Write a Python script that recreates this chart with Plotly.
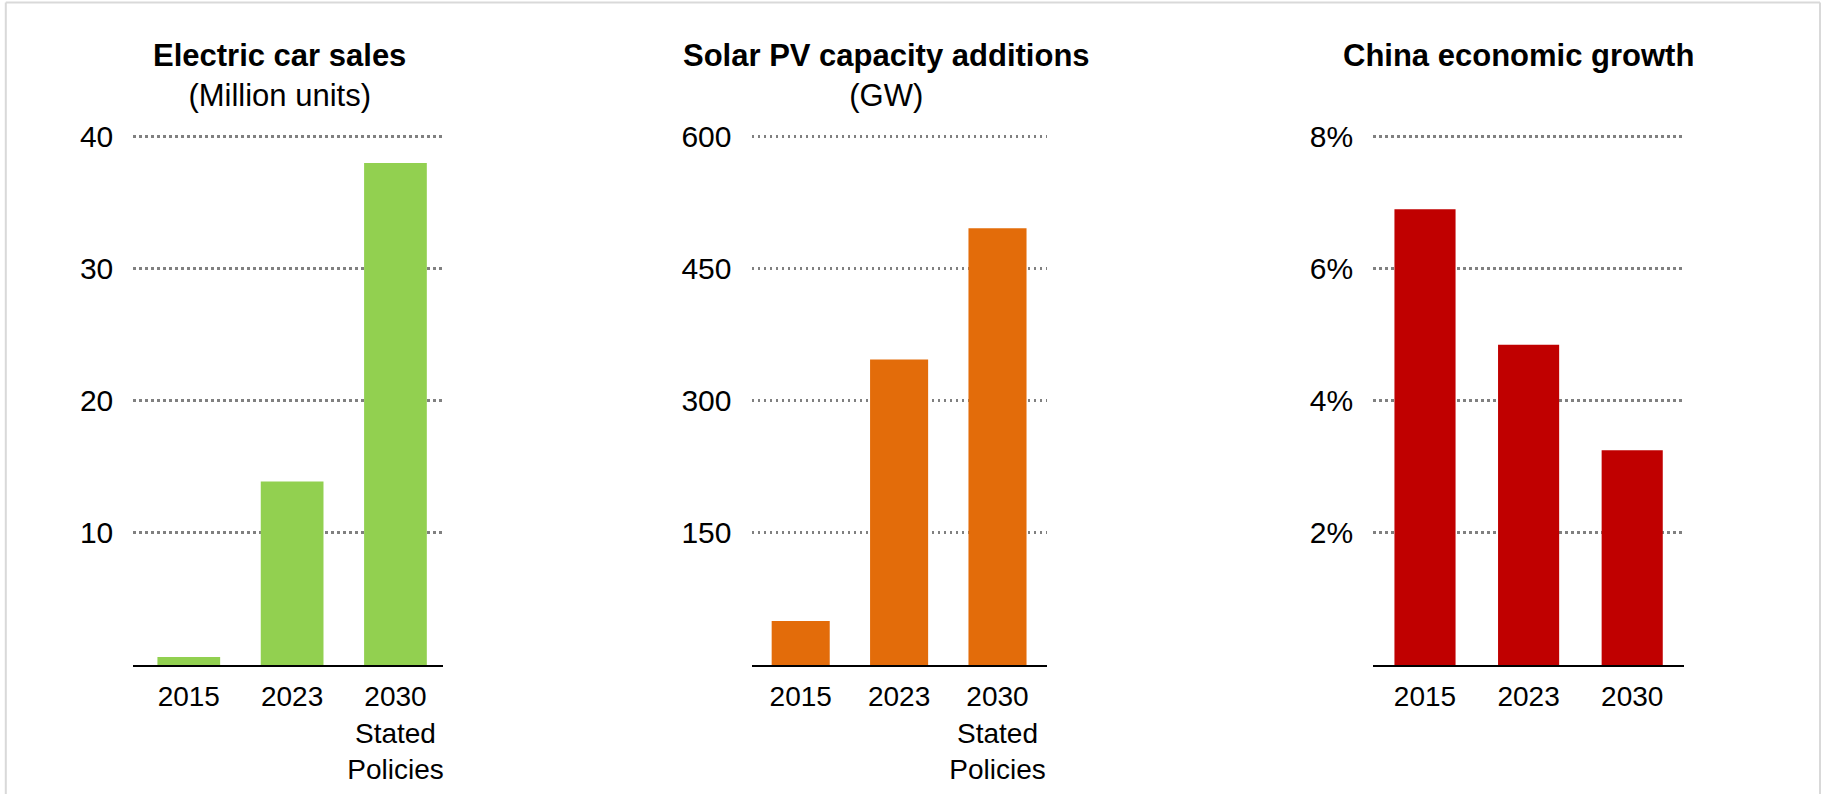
import plotly.graph_objects as go

# ---- data ----
years = ["2015", "2023", "2030"]
ev_tick_text = ["2015", "2023", "2030<br>Stated<br>Policies"]
gdp_tick_text = ["2015", "2023", "2030"]

ev_sales_mn = [0.6, 13.9, 38.0]          # million units
solar_pv_gw = [50, 347, 496]             # GW
china_gdp_pct = [6.9, 4.85, 3.25]        # % growth

ev_ticks = [10, 20, 30, 40]
pv_ticks = [150, 300, 450, 600]
gdp_ticks = [2, 4, 6, 8]
gdp_tick_labels = ["2%", "4%", "6%", "8%"]

# ---- canvas ----
W, H = 1825, 794
FONT = "Liberation Sans, Arial, Helvetica, sans-serif"

BASE_PX = 665.0     # pixel row of the value axis zero
TOP_PX = 136.7      # pixel row of the top tick value
HEADROOM = 1.02     # range extends a little past the top tick so its gridline shows


def px_x(v):
    return v / W


def px_y(v):
    return 1 - v / H


top_dom_px = BASE_PX - (BASE_PX - TOP_PX) * HEADROOM
y_dom = [px_y(BASE_PX), px_y(top_dom_px)]

panels = [
    dict(dom=(133.3, 443.3), rng=(-0.537, 2.463), color="#92D050", vals=ev_sales_mn,
         ticks=ev_ticks, tlabels=[str(t) for t in ev_ticks], rmax=40,
         ttext=ev_tick_text, width=0.607),
    dict(dom=(751.5, 1046.7), rng=(-0.5, 2.5), color="#E36C0A", vals=solar_pv_gw,
         ticks=pv_ticks, tlabels=[str(t) for t in pv_ticks], rmax=600,
         ttext=ev_tick_text, width=0.59),
    dict(dom=(1373.2, 1684.0), rng=(-0.5, 2.5), color="#C00000", vals=china_gdp_pct,
         ticks=gdp_ticks, tlabels=gdp_tick_labels, rmax=8,
         ttext=gdp_tick_text, width=0.59),
]

fig = go.Figure()
layout = dict(
    width=W, height=H,
    margin=dict(l=0, r=0, t=0, b=0),
    paper_bgcolor="white", plot_bgcolor="white",
    showlegend=False,
    font=dict(family=FONT, color="black", size=28),
)

for i, p in enumerate(panels, start=1):
    sx = "" if i == 1 else str(i)
    fig.add_trace(go.Bar(
        x=years, y=p["vals"], xaxis="x" + sx, yaxis="y" + sx,
        marker=dict(color=p["color"], line=dict(width=0)),
        width=p["width"], hoverinfo="skip",
    ))
    layout["xaxis" + sx] = dict(
        domain=[px_x(p["dom"][0]), px_x(p["dom"][1])],
        anchor="y" + sx, type="category", range=list(p["rng"]),
        tickmode="array", tickvals=years, ticktext=p["ttext"],
        showgrid=False, zeroline=False,
        showline=True, linecolor="black", linewidth=1.5,
        ticks="", ticklabelstandoff=6,
        tickfont=dict(family=FONT, size=28, color="black"),
        automargin=False, fixedrange=True,
    )
    layout["yaxis" + sx] = dict(
        domain=y_dom, anchor="x" + sx,
        range=[0, p["rmax"] * HEADROOM],
        tickmode="array", tickvals=p["ticks"], ticktext=p["tlabels"],
        showgrid=True, gridcolor="#808080", gridwidth=2.5, griddash="2.5px,3.5px",
        zeroline=False, showline=False,
        ticks="", ticklabelstandoff=19,
        tickfont=dict(family=FONT, size=30, color="black"),
        automargin=False, fixedrange=True,
    )

fig.update_layout(**layout)

# panel headings
titles = [
    (279, 75.5, "<b>Electric car sales</b><br>(Million units)"),
    (886.5, 75.5, "<b>Solar PV capacity additions</b><br>(GW)"),
    (1518.7, 55.5, "<b>China economic growth</b>"),
]
for x, y, txt in titles:
    fig.add_annotation(
        x=px_x(x), y=px_y(y), xref="paper", yref="paper",
        xanchor="center", yanchor="middle", showarrow=False,
        text=txt, font=dict(family=FONT, size=31, color="black"),
    )

# light frame around the figure (top, left, right edges)
frame = dict(color="#d9d9d9", width=2)
fig.add_shape(type="line", xref="paper", yref="paper",
              x0=px_x(5.8), x1=px_x(1820), y0=px_y(2.5), y1=px_y(2.5), line=frame)
fig.add_shape(type="line", xref="paper", yref="paper",
              x0=px_x(5.8), x1=px_x(5.8), y0=px_y(2.5), y1=px_y(800), line=frame)
fig.add_shape(type="line", xref="paper", yref="paper",
              x0=px_x(1820), x1=px_x(1820), y0=px_y(2.5), y1=px_y(800), line=frame)

fig.write_html("out.html", config={"displayModeBar": False})
